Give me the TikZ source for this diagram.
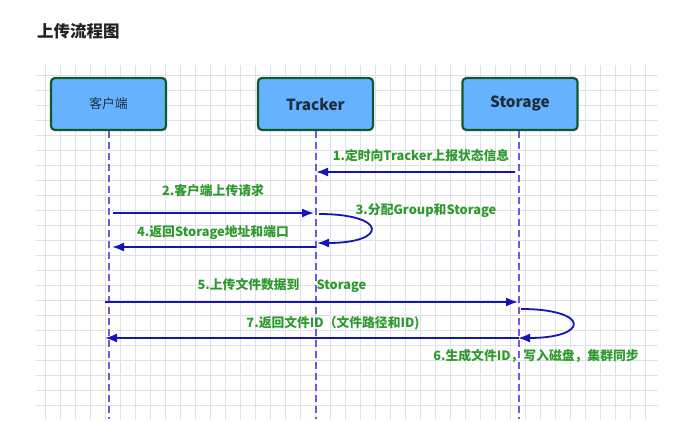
\documentclass[tikz,border=0pt]{standalone}
\usepackage{fontspec}
\newfontfamily\cjk{Noto Sans CJK SC}
\usetikzlibrary{arrows.meta}
\definecolor{boxfill}{HTML}{66B2FF}
\definecolor{boxline}{HTML}{11592B}
\definecolor{arrowc}{HTML}{1414B8}
\definecolor{lifec}{HTML}{6E5ADC}
\definecolor{labc}{HTML}{2E9A2E}
\definecolor{gridc}{HTML}{E0E0EA}
\definecolor{titlec}{HTML}{222222}
\definecolor{boxtext}{HTML}{1F2D3D}
\tikzset{
  actor/.style={draw=boxline, line width=2.2pt, fill=boxfill, rounded corners=4pt,
    minimum width=115pt, minimum height=52pt, inner sep=0pt, text=boxtext},
  life/.style={draw=lifec, line width=1.5pt, dash pattern=on 7pt off 4pt},
  msg/.style={draw=arrowc, line width=1.8pt, -{Latex[length=12pt,width=9pt]}},
  lab/.style={text=labc, font=\cjk\bfseries\fontsize{12.8}{14}\selectfont, inner sep=0pt},
}
\begin{document}
\begin{tikzpicture}[x=1pt,y=-1pt]
\useasboundingbox (0,0) rectangle (687,421);
\fill[white] (0,0) rectangle (687,421);
% grid
\begin{scope}
\clip (36,65) rectangle (658,419);
\draw[gridc, line width=0.6pt] (36,65) grid[step=15pt] (672,435);
\end{scope}
% title
\node[anchor=west, inner sep=0pt, text=titlec, font=\cjk\bfseries\fontsize{16.5}{18}\selectfont] (title) at (37,31) {上传流程图};
% actors
\node[actor, font=\cjk\fontsize{12.8}{14}\selectfont] (client) at (108.5,104) {客户端};
\node[actor, font=\cjk\bfseries\fontsize{15.3}{17}\selectfont] (tracker) at (315.5,104) {Tracker};
\node[actor, font=\cjk\bfseries\fontsize{15.3}{17}\selectfont] (storage) at (520,104) {Storage};
% lifelines
\coordinate (cb) at (109,419);
\coordinate (tb) at (316,419);
\coordinate (sb) at (519,419);
\draw[life] (client.south -| cb) -- (cb);
\draw[life] (tracker.south -| tb) -- (tb);
\draw[life] (storage.south -| sb) -- (sb);
% message endpoints
\coordinate (s1) at (515,172); \coordinate (t1) at (316,172);
\coordinate (c2) at (113,213); \coordinate (t2) at (314,213);
\coordinate (t3a) at (319,214); \coordinate (t3b) at (317,243);
\coordinate (t4) at (316,247); \coordinate (c4) at (112,247);
\coordinate (c5) at (105,302); \coordinate (s5) at (518,302);
\coordinate (s6a) at (521,309); \coordinate (s6b) at (518,338);
\coordinate (s7) at (519,338); \coordinate (c7) at (105,338);
% messages
\draw[msg] (s1) -- (t1);
\draw[msg] (c2) -- (t2);
\draw[msg] (t3a) .. controls (388,214) and (388,243) .. (t3b);
\draw[msg] (t4) -- (c4);
\draw[msg] (c5) -- (s5);
\draw[msg] (s6a) .. controls (590,309) and (590,338) .. (s6b);
\draw[msg] (s7) -- (c7);
% labels
\node[lab] (l1) at (421,156) {1.定时向Tracker上报状态信息};
\node[lab] (l2) at (213,191) {2.客户端上传请求};
\node[lab] (l3) at (426,211) {3.分配Group和Storage};
\node[lab] (l4) at (213,233) {4.返回Storage地址和端口};
\node[lab] (l5) at (282,285) {5.上传文件数据到\hspace{17pt}Storage};
\node[lab] (l7) at (333,323) {7.返回文件ID（文件路径和ID)};
\node[lab] (l6) at (536,356) {6.生成文件ID，写入磁盘，集群同步};
\end{tikzpicture}
\end{document}
